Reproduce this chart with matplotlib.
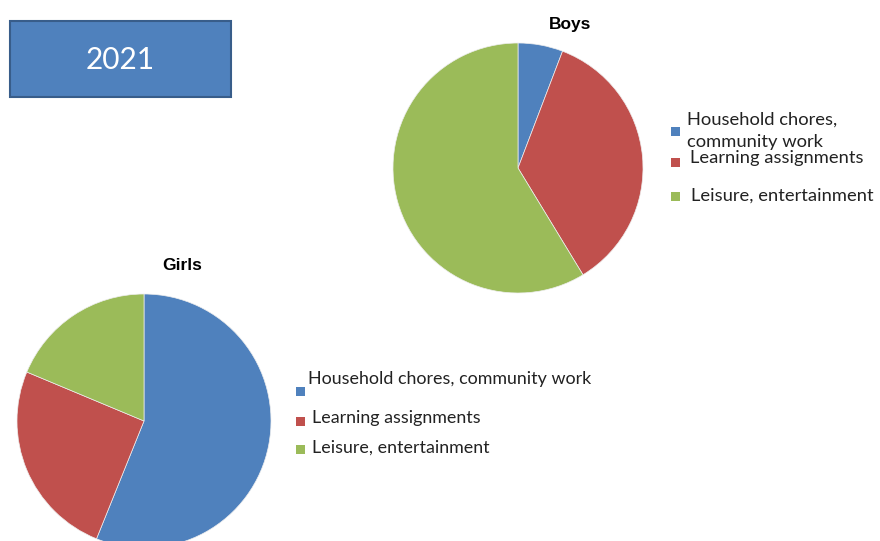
import matplotlib.pyplot as plt
from matplotlib.patches import Rectangle

# data (percent)
categories = ['Household chores, community work', 'Learning assignments', 'Leisure, entertainment']
boys_labels = ['Household chores,\ncommunity work', 'Learning assignments', 'Leisure, entertainment']
boys = [5.8, 35.5, 58.7]
girls = [56.1, 25.2, 18.7]
colors = ['#4f81bd', '#c0504d', '#9bbb59']
year = '2021'

W, H = 880, 541
fig = plt.figure(figsize=(W / 100, H / 100), dpi=100)
fig.patch.set_facecolor('white')


def px_axes(cx, cy, r):
    # axes in pixel coords, centred on the pie centre
    return fig.add_axes([(cx - r) / W, 1 - (cy + r) / H, 2 * r / W, 2 * r / H])


def pie(ax, vals):
    ax.pie(vals, colors=colors, startangle=90, counterclock=False, radius=1,
           wedgeprops=dict(linewidth=0.5, edgecolor='#eeeeee'))
    ax.set_xlim(-1, 1)
    ax.set_ylim(-1, 1)
    ax.set_aspect('equal')
    ax.axis('off')


ax_b = px_axes(518, 168, 125)
pie(ax_b, boys)
ax_g = px_axes(144, 421, 127)
pie(ax_g, girls)

fig.text(570 / W, 1 - 25 / H, 'Boys', ha='center', va='center', fontsize=12.5,
         fontweight='bold', family='Liberation Sans')
fig.text(182 / W, 1 - 266 / H, 'Girls', ha='center', va='center', fontsize=12.5,
         fontweight='bold', family='Liberation Sans')

# year box
fig.patches.append(Rectangle((10 / W, 1 - 97 / H), 221 / W, 76 / H, transform=fig.transFigure,
                             facecolor='#4f81bd', edgecolor='#385d8a', lw=1.5))
fig.text(120 / W, 1 - 60 / H, year, ha='center', va='center', color='white', fontsize=21.5,
         family='Lato')


def legend(labels, sq_x, sq_y, tx, ty, fs):
    for lab, c, sy, x, y in zip(labels, colors, sq_y, tx, ty):
        fig.patches.append(Rectangle((sq_x / W, 1 - (sy + 4.5) / H), 9 / W, 9 / H,
                                     transform=fig.transFigure, facecolor=c, edgecolor='none'))
        fig.text(x / W, 1 - y / H, lab, ha='left', va='center', fontsize=fs,
                 family='Lato', color='#222222', linespacing=1.5)


legend(boys_labels, 671, [131, 162, 196], [687, 690, 691], [131, 158, 196], 13.2)
legend(categories, 296, [391, 421, 449], [308, 312, 312], [379, 418, 448], 12.9)

fig.savefig('out.png', dpi=100)
